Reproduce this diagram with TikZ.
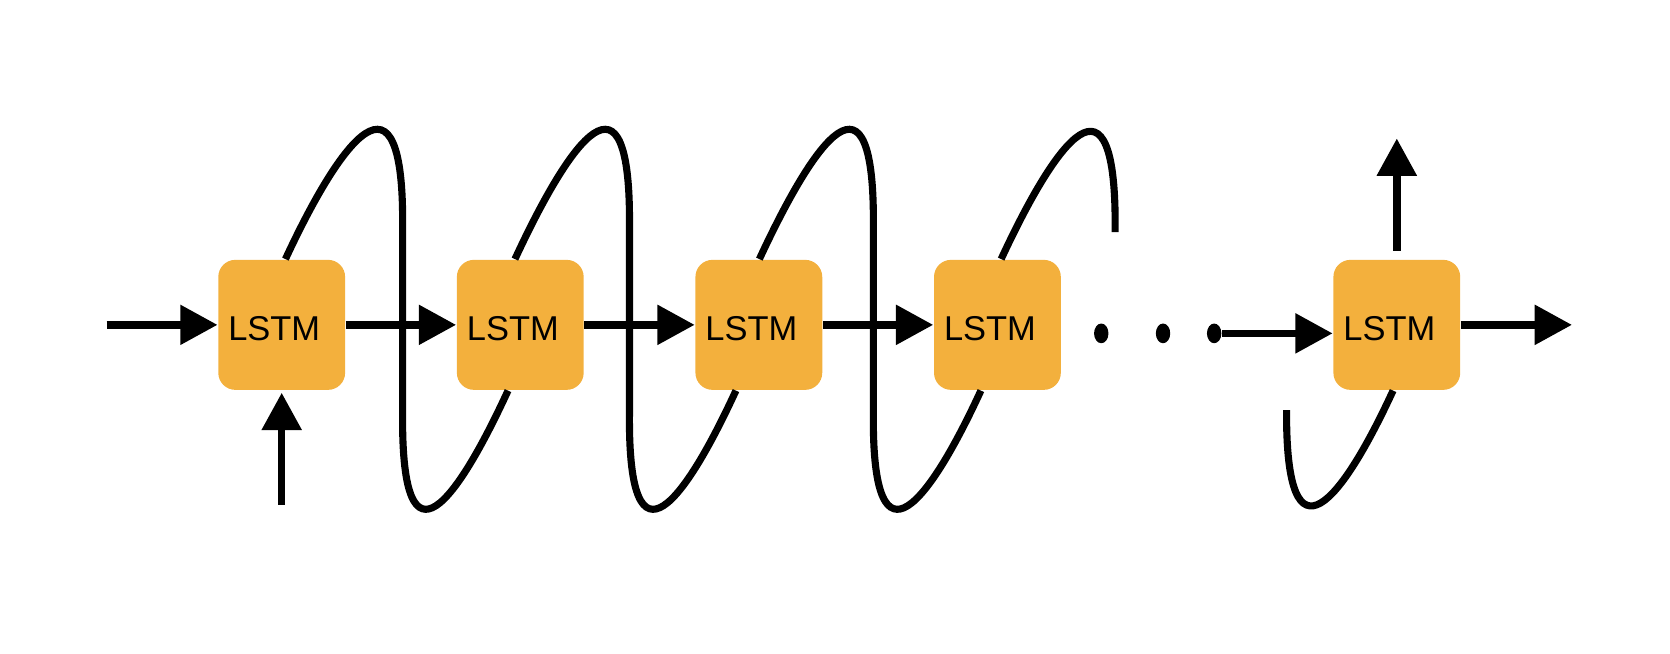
\documentclass[tikz,border=0pt]{standalone}
\usepackage{fontspec}
\setmainfont{Liberation Sans}
\usetikzlibrary{arrows.meta,shapes.geometric,calc}
\definecolor{lstmorange}{HTML}{F3B03D}
\newcommand{\lstmlabel}{\rule{0pt}{8.3pt}LSTM\rule{0.14cm}{0pt}}
\begin{document}
\begin{tikzpicture}[x=0.01cm,y=-0.01cm,
  lstm/.style={fill=lstmorange, rounded corners=0.16cm, minimum width=1.19cm, minimum height=1.22cm, inner sep=0pt, font=\fontsize{9.2}{10}\selectfont},
  flow/.style={line width=2pt, -{Triangle[length=0.35cm,width=0.36cm]}},
  wire/.style={line width=1.9pt},
  dot/.style={ellipse, fill=black, minimum width=0.135cm, minimum height=0.185cm, inner sep=0pt}]
\useasboundingbox (0,0) rectangle (1568,614);
% boxes
\node[lstm] (b1) at (264.5,305) {\lstmlabel};
\node[lstm] (b2) at (488.5,305) {\lstmlabel};
\node[lstm] (b3) at (712.5,305) {\lstmlabel};
\node[lstm] (b4) at (936.5,305) {\lstmlabel};
\node[lstm] (b5) at (1311.5,305) {\lstmlabel};
% dots
\node[dot] (d1) at (1034,313) {};
\node[dot] (d2) at (1092,313) {};
\node[dot] (d3) at (1140,313) {};
% free ends
\coordinate (in) at (100,305);
\coordinate (out) at (1476,305);
\coordinate (up) at (1311.5,130);
\coordinate (x0) at (264.5,474);
% horizontal flow
\draw[flow] (in) -- (b1.west);
\draw[flow] (b1.east) -- (b2.west);
\draw[flow] (b2.east) -- (b3.west);
\draw[flow] (b3.east) -- (b4.west);
\draw[flow] (d3) -- (b5.west |- d3);
\draw[flow] (b5.east) -- (out);
\draw[flow] ([yshift=0.08cm]b5.north) -- (up);
\draw[flow] (x0) -- ([yshift=-0.02cm]b1.south);
% loops
\coordinate (v1t) at (378,215); \coordinate (v1b) at (378,390);
\coordinate (v2t) at (591,215); \coordinate (v2b) at (591,390);
\coordinate (v3t) at (820,215); \coordinate (v3b) at (820,390);
\coordinate (e4) at (1047,218);
\coordinate (s5) at (1208,385);
\draw[wire] ([xshift=0.035cm]b1.north) .. controls +(52,-112) and +(2,-165) .. (v1t) -- (v1b)
  .. controls +(-1,155) and +(-47,102) .. ([xshift=-0.115cm]b2.south);
\draw[wire] ([xshift=-0.05cm]b2.north) .. controls +(52,-112) and +(2,-165) .. (v2t) -- (v2b)
  .. controls +(-1,155) and +(-47,102) .. ([xshift=-0.215cm]b3.south);
\draw[wire] ([xshift=0.005cm]b3.north) .. controls +(52,-112) and +(2,-165) .. (v3t) -- (v3b)
  .. controls +(-1,155) and +(-47,102) .. ([xshift=-0.155cm]b4.south);
\draw[wire] ([xshift=0.035cm]b4.north) .. controls +(52,-112) and +(2,-165) .. (e4);
\draw[wire] (s5) .. controls +(-1,155) and +(-47,102) .. ([xshift=-0.035cm]b5.south);
\end{tikzpicture}
\end{document}
